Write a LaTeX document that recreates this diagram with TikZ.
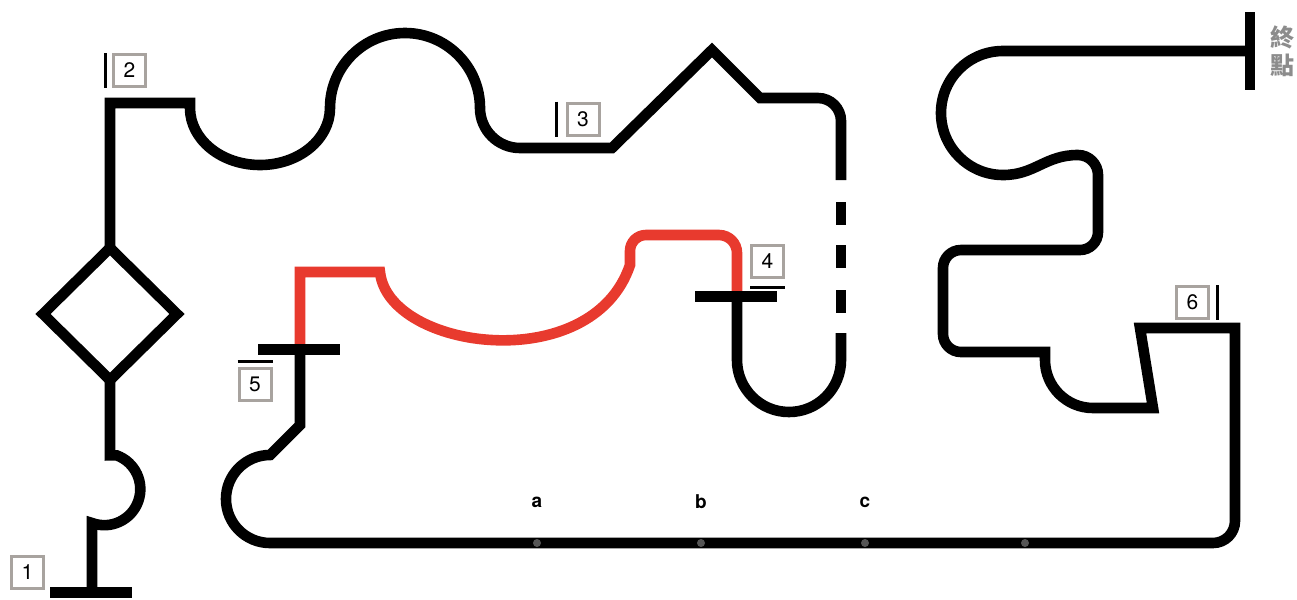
\documentclass[tikz,border=0pt]{standalone}
\usepackage{fontspec}
\setmainfont{TeX Gyre Heros}
\newfontfamily\cjkfont{Noto Sans CJK TC}
\usepackage{tikz}
\usetikzlibrary{calc}
\definecolor{trackred}{RGB}{232,58,46}
\definecolor{boxgray}{RGB}{168,163,159}
\definecolor{dotgray}{RGB}{85,85,85}
\definecolor{textgray}{RGB}{140,140,140}

\begin{document}
\begin{tikzpicture}[x=0.5pt,y=0.5pt,
        track/.style={line width=5.3pt,black},
        redtrack/.style={line width=5.3pt,trackred},
        gatebar/.style={line width=5.5pt,black},
        labbox/.style={draw=boxgray,line width=1.5pt,minimum size=16pt,inner sep=0pt,
                font=\fontsize{10.5}{10.5}\selectfont},
        tickmark/.style={line width=1.5pt,black},
        pointlab/.style={font=\bfseries\fontsize{9.5}{9.5}\selectfont}]
        \useasboundingbox (0,0) rectangle (1297,-600);

        % start and the diamond
        \draw[gatebar] (50,-592) -- (132,-592);
        \draw[track] (92,-592) -- (92,-523) arc[start angle=-110,end angle=70,radius=36]
                -- (110,-455.4) -- (110,-380);
        \draw[track] (110,-380) -- (177,-314) -- (110,-248) -- (43,-314) -- cycle;
        \draw[track] (110,-248) -- (110,-103) -- (190,-103) -- (190,-108)
                arc[start angle=180,end angle=360,x radius=70,y radius=57]
                arc[start angle=180,end angle=0,radius=75]
                arc[start angle=180,end angle=270,radius=40]
                -- (612,-148) -- (712,-50) -- (760,-98) -- (818,-98)
                arc[start angle=90,end angle=0,radius=23] -- (841,-180);

        % broken part
        \foreach \y in {202,245,290}
                \draw[track] (841,-\y) -- (841,{-\y-23});

        \draw[track] (841,-333) -- (841,-360) arc[start angle=0,end angle=-180,radius=52]
                -- (737,-296);

        % red part
        \draw[redtrack] (737,-296) -- (737,-253) arc[start angle=0,end angle=90,radius=18]
                -- (646,-235) arc[start angle=90,end angle=180,radius=16] -- (630,-265)
                .. controls (592,-378) and (388,-350) .. (380,-272) -- (300,-272) -- (300,-349);

        \draw[track] (300,-349) -- (300,-425) -- (270,-455)
                arc[start angle=90,end angle=270,radius=44] -- (1213,-543)
                arc[start angle=270,end angle=360,radius=22] -- (1235,-328)
                -- (1140,-328) -- (1153,-408) -- (1093,-408)
                arc[start angle=270,end angle=180,radius=48] -- (1045,-352) -- (961,-352)
                arc[start angle=270,end angle=180,radius=18] -- (943,-268)
                arc[start angle=180,end angle=90,radius=18] -- (1080,-250)
                arc[start angle=-90,end angle=0,radius=18] -- (1098,-175)
                arc[start angle=0,end angle=90,radius=20]
                .. controls (1045,-155) and (1035,-175) .. (1003,-175)
                arc[start angle=270,end angle=90,radius=62] -- (1250,-51);

        % gates
        \draw[gatebar] (695,-296) -- (777,-296);
        \draw[gatebar] (258,-349) -- (340,-349);
        \draw[line width=5pt] (1250,-12) -- (1250,-90);

        % points on the bottom straight
        \foreach \x in {537,701,865,1025}
                \fill[dotgray] (\x,-543) circle (4);
        \node[pointlab] (pa) at (537,-502) {a};
        \node[pointlab] (pb) at (701,-502) {b};
        \node[pointlab] (pc) at (865,-502) {c};

        % numbered labels
        \node[labbox] (lab1) at (27.5,-572.5) {1};
        \node[labbox] (lab2) at (129.5,-70.5) {2};
        \node[labbox] (lab3) at (583,-119) {3};
        \node[labbox] (lab4) at (767.5,-261.5) {4};
        \node[labbox] (lab5) at (255,-384.5) {5};
        \node[labbox] (lab6) at (1192.5,-302.5) {6};

        \draw[tickmark] ([yshift=-6pt]lab1.south west) -- ([yshift=-6pt]lab1.south east);
        \draw[tickmark] ([xshift=-3.5pt]lab2.north west) -- ([xshift=-3.5pt]lab2.south west);
        \draw[tickmark] ([xshift=-4.5pt]lab3.north west) -- ([xshift=-4.5pt]lab3.south west);
        \draw[tickmark] ([yshift=-4pt]lab4.south west) -- ([yshift=-4pt]lab4.south east);
        \draw[tickmark] ([yshift=3pt]lab5.north west) -- ([yshift=3pt]lab5.north east);
        \draw[tickmark] ([xshift=3.5pt]lab6.north east) -- ([xshift=3.5pt]lab6.south east);

        % finish
        \node[textgray,font=\cjkfont\bfseries\fontsize{12}{12}\selectfont,align=center,
                inner sep=0pt] (finish) at (1282,-51) {終\\[2pt]點};
\end{tikzpicture}
\end{document}
